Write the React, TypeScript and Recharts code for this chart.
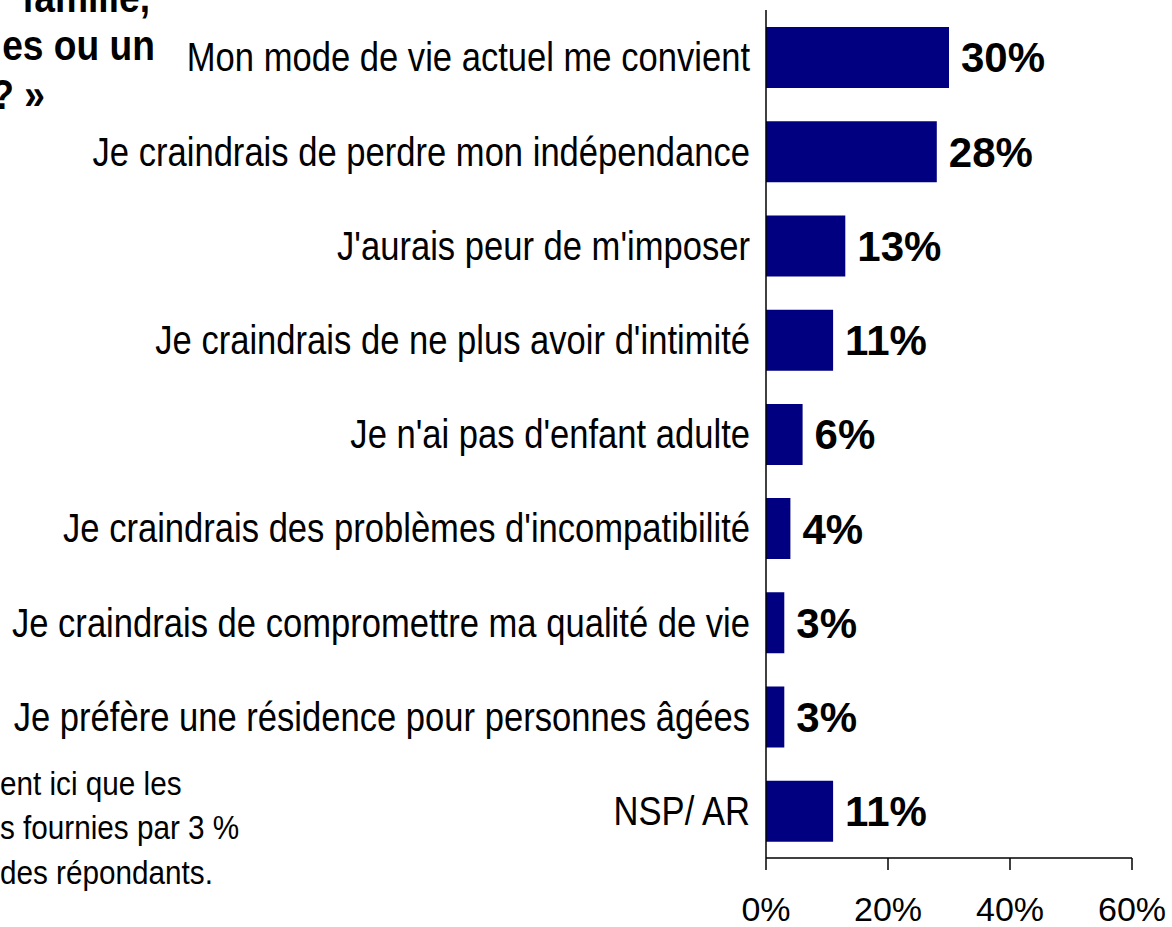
import React from "react";
import { BarChart, Bar, XAxis, YAxis, LabelList } from "recharts";

const categories = [
  "Mon mode de vie actuel me convient",
  "Je craindrais de perdre mon indépendance",
  "J'aurais peur de m'imposer",
  "Je craindrais de ne plus avoir d'intimité",
  "Je n'ai pas d'enfant adulte",
  "Je craindrais des problèmes d'incompatibilité",
  "Je craindrais de compromettre ma qualité de vie",
  "Je préfère une résidence pour personnes âgées",
  "NSP/ AR",
];
const values = [30, 28, 13, 11, 6, 4, 3, 3, 11];
const xTicks = [0, 20, 40, 60];
const titleLines = ["famille,", "es ou un", "? »"];
const noteLines = ["ent ici que les", "s fournies par 3 %", "des répondants."];

const data = categories.map((c, i) => ({ name: c, value: values[i] }));

const ARIAL = "'Liberation Sans', Arial, sans-serif";

function NarrowText(props: {
  x: number;
  y: number;
  text: string;
  size: number;
  bold?: boolean;
  anchor?: "start" | "end" | "middle";
  dy?: string;
  scale?: number;
}) {
  const { x, y, text, size, bold, anchor = "end", dy, scale = 0.865 } = props;
  return (
    <g transform={`translate(${x},${y})`}>
      <text
        transform={`scale(${scale},1)`}
        x={0}
        y={0}
        dy={dy}
        textAnchor={anchor}
        fontFamily={ARIAL}
        fontSize={size}
        fontWeight={bold ? "bold" : "normal"}
        fill="#000"
      >
        {text}
      </text>
    </g>
  );
}

function CategoryTick(props: any) {
  const { x, y, payload } = props;
  return <NarrowText x={x} y={y} text={payload.value} size={40} dy="0.355em" />;
}

export default function App() {
  return (
    <div style={{ position: "absolute", left: 0, top: 0, width: 1172, height: 927, background: "#fff", overflow: "hidden" }}>
      <BarChart
        width={1172}
        height={927}
        layout="vertical"
        data={data}
        margin={{ top: 10, right: 40, bottom: 0, left: 0 }}
      >
        <XAxis
          type="number"
          domain={[0, 60]}
          ticks={xTicks}
          tickFormatter={(v) => `${v}%`}
          axisLine={{ stroke: "#000", strokeWidth: 1.5 }}
          tickLine={{ stroke: "#000", strokeWidth: 1.5 }}
          tickSize={12}
          tickMargin={27}
          height={69}
          tick={{ fill: "#000", fontSize: 34, fontFamily: ARIAL }}
          interval={0}
        />
        <YAxis
          type="category"
          dataKey="name"
          width={766}
          axisLine={{ stroke: "#000", strokeWidth: 1.5 }}
          tickLine={false}
          tickSize={6}
          tickMargin={10}
          interval={0}
          tick={<CategoryTick />}
        />
        <Bar dataKey="value" fill="#000080" barSize={61} isAnimationActive={false}>
          <LabelList
            dataKey="value"
            position="right"
            offset={12}
            formatter={(v: number) => `${v}%`}
            style={{ fill: "#000", fontSize: 42, fontWeight: "bold", fontFamily: ARIAL }}
          />
        </Bar>
      </BarChart>
      <svg width={1172} height={927} style={{ position: "absolute", left: 0, top: 0, pointerEvents: "none" }}>
        <NarrowText x={150} y={12} text={titleLines[0]} size={43} bold />
        <NarrowText x={155} y={60} text={titleLines[1]} size={43} bold />
        <NarrowText x={45} y={109} text={titleLines[2]} size={43} bold />
        <NarrowText x={0} y={795} text={noteLines[0]} size={33} anchor="start" scale={0.9} />
        <NarrowText x={0} y={839} text={noteLines[1]} size={33} anchor="start" scale={0.9} />
        <NarrowText x={0} y={884} text={noteLines[2]} size={33} anchor="start" scale={0.9} />
      </svg>
    </div>
  );
}
